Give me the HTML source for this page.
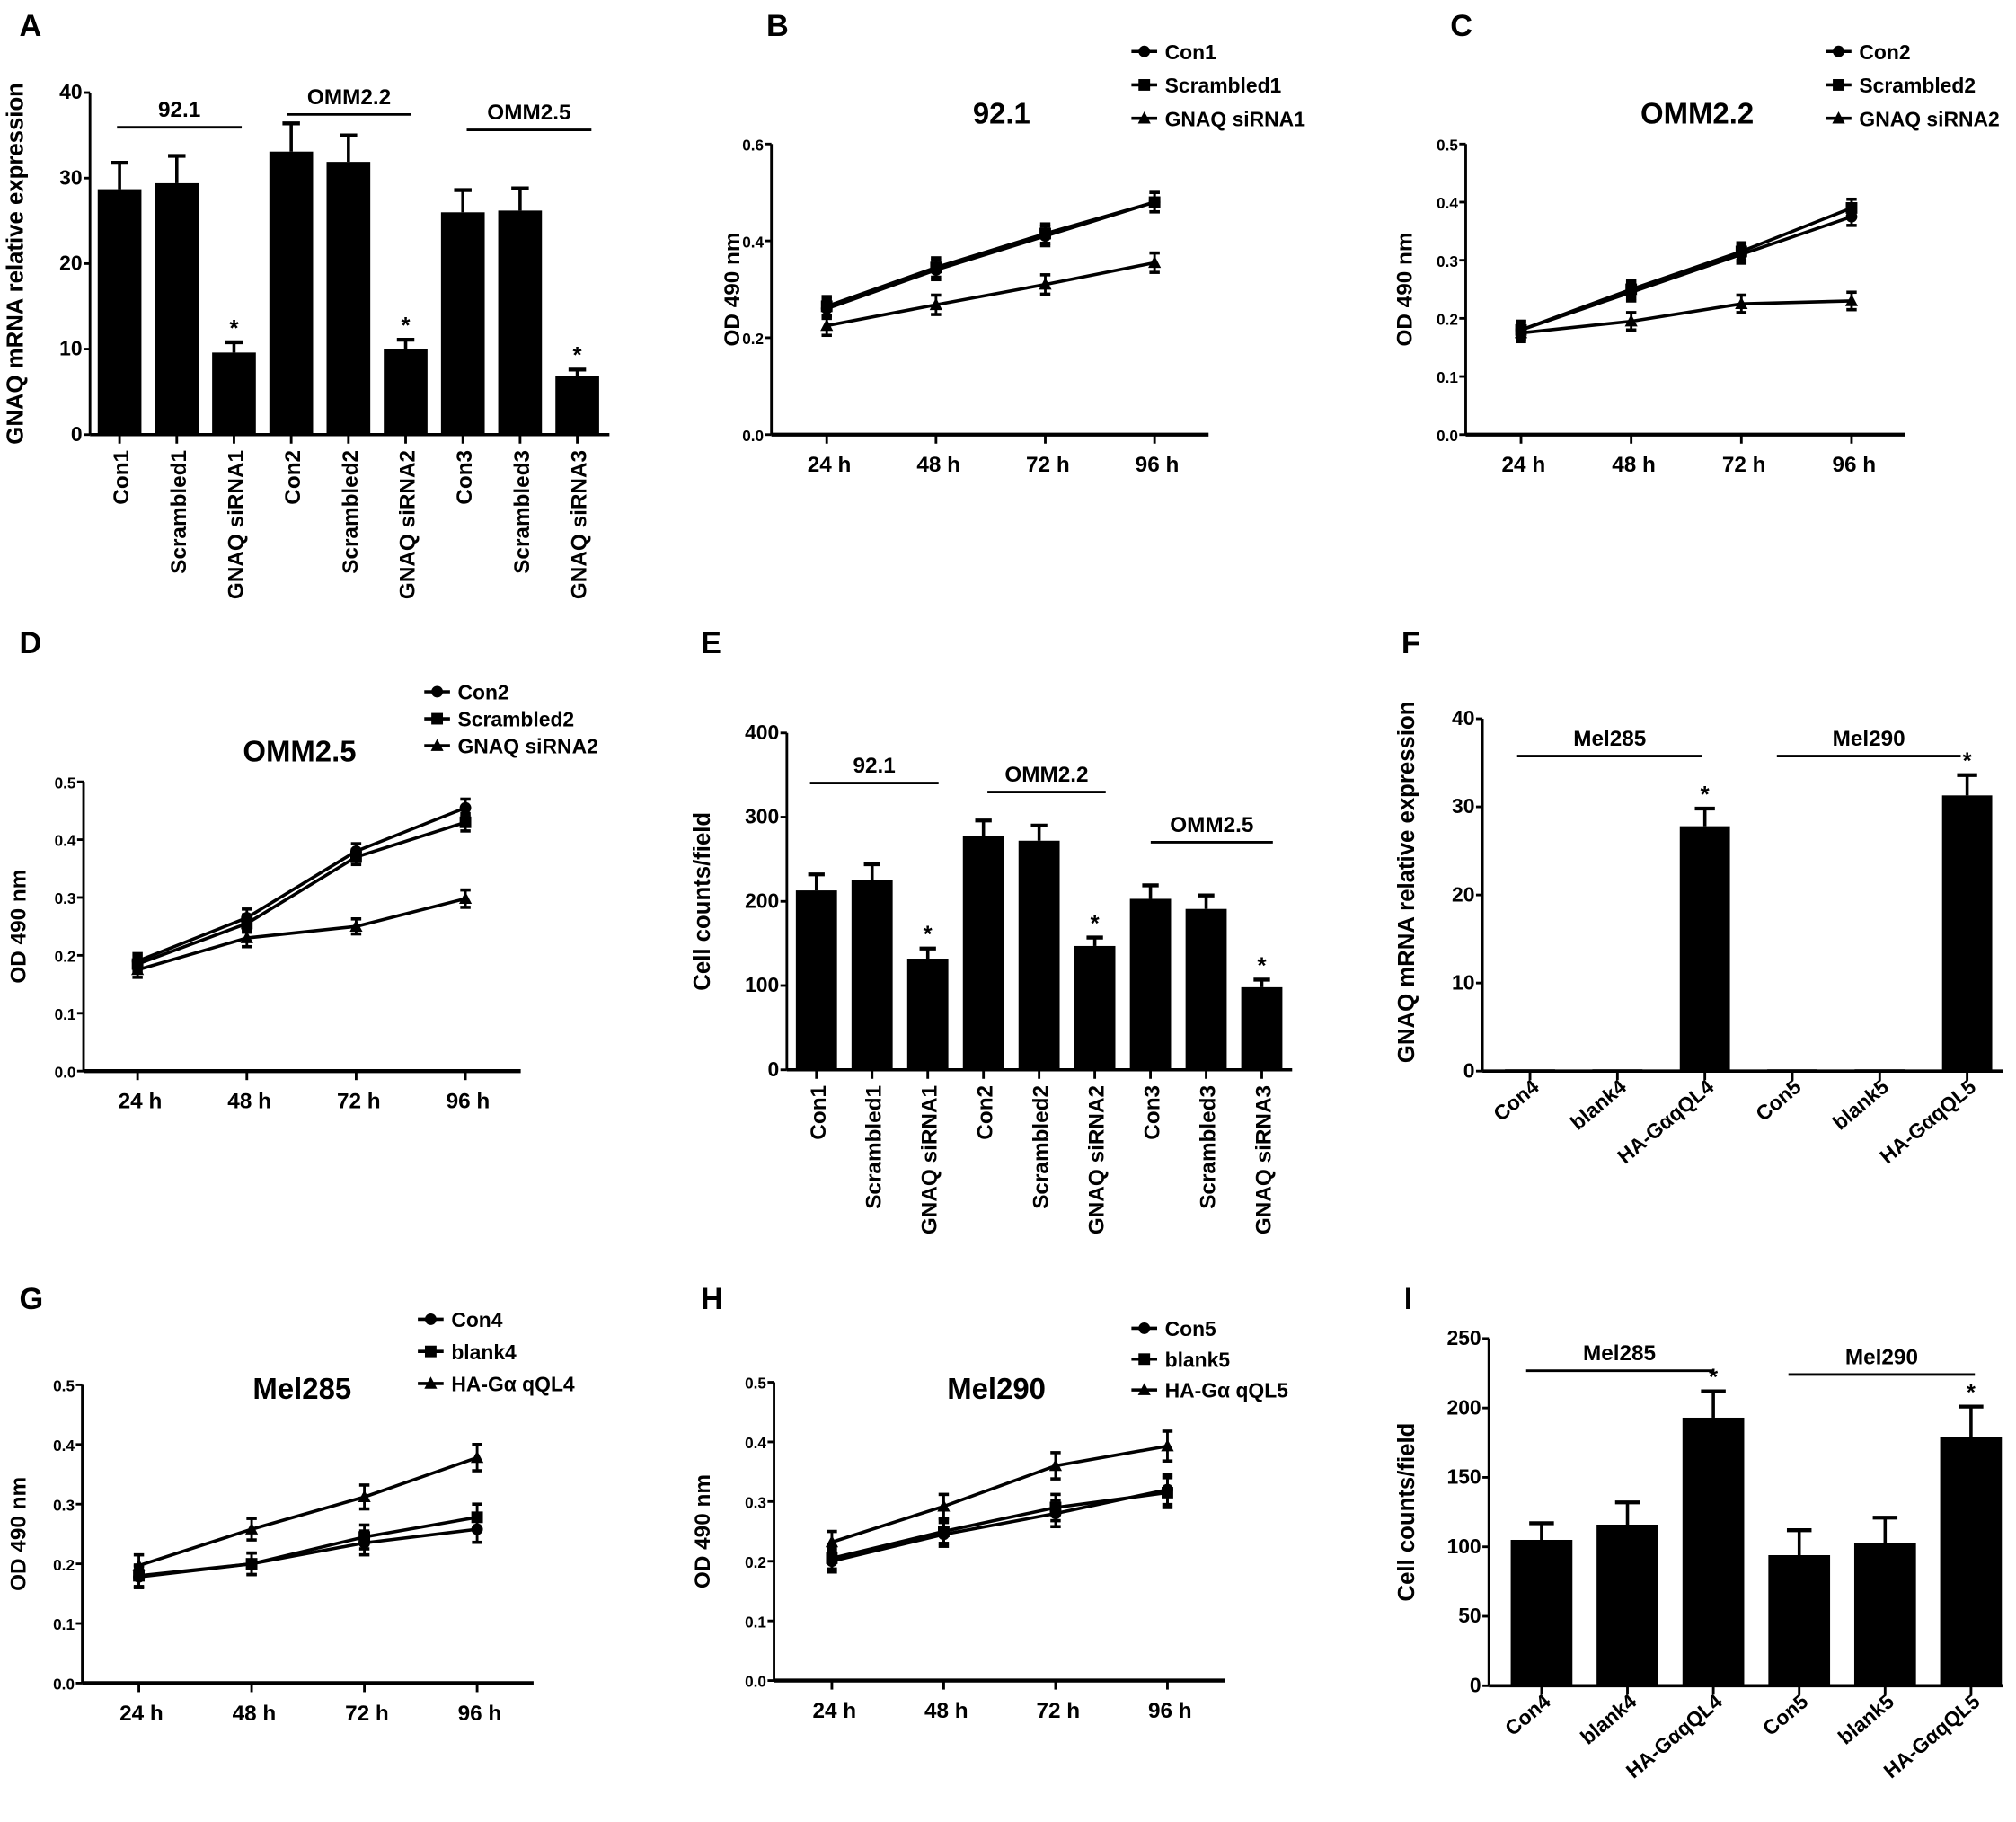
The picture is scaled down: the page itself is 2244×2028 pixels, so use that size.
<!DOCTYPE html>
<html><head><meta charset="utf-8"><style>
html,body{margin:0;padding:0;background:#fff;}
svg{display:block;}
text{font-family:"Liberation Sans",Arial,sans-serif;font-weight:bold;fill:#000;}
</style></head><body>
<svg id="fig" width="2244" height="2028" viewBox="0 0 1568 1417" preserveAspectRatio="none" xmlns="http://www.w3.org/2000/svg"></svg>
<script>
// ---- Data ----
const catsA = ["Con1","Scrambled1","GNAQ siRNA1","Con2","Scrambled2","GNAQ siRNA2","Con3","Scrambled3","GNAQ siRNA3"];
const valsA = [28.7,29.4,9.6,33.1,31.9,10.0,26.0,26.2,6.9];
const errsA = [3.1,3.2,1.2,3.3,3.1,1.1,2.6,2.6,0.7];
const sigA = [0,0,1,0,0,1,0,0,1];
const ticksA = [0,10,20,30,40];

const catsE = ["Con1","Scrambled1","GNAQ siRNA1","Con2","Scrambled2","GNAQ siRNA2","Con3","Scrambled3","GNAQ siRNA3"];
const valsE = [213,225,132,278,272,147,203,191,98];
const errsE = [19,19,12,18,18,10,16,16,9];
const sigE = [0,0,1,0,0,1,0,0,1];
const ticksE = [0,100,200,300,400];

const catsF = ["Con4","blank4","HA-GαqQL4","Con5","blank5","HA-GαqQL5"];
const valsF = [0.2,0.2,27.8,0.2,0.2,31.3];
const errsF = [0,0,2.0,0,0,2.3];
const sigF = [0,0,1,0,0,1];
const ticksF = [0,10,20,30,40];

const catsI = ["Con4","blank4","HA-GαqQL4","Con5","blank5","HA-GαqQL5"];
const valsI = [105,116,193,94,103,179];
const errsI = [12,16,19,18,18,22];
const sigI = [0,0,1,0,0,1];
const ticksI = [0,50,100,150,200,250];

const timeLabels = ["24 h","48 h","72 h","96 h"];

const namesB = ["Con1","Scrambled1","GNAQ siRNA1"];
const b1 = [0.26,0.34,0.41,0.48];
const b2 = [0.265,0.345,0.415,0.48];
const b3 = [0.225,0.268,0.31,0.355];
const errB = [0.02,0.02,0.02,0.02];
const ticksB = [0.0,0.2,0.4,0.6];

const namesC = ["Con2","Scrambled2","GNAQ siRNA2"];
const c1 = [0.18,0.245,0.31,0.375];
const c2 = [0.18,0.25,0.315,0.39];
const c3 = [0.175,0.195,0.225,0.23];
const errC = [0.015,0.015,0.015,0.015];
const ticksC = [0.0,0.1,0.2,0.3,0.4,0.5];

const namesD = ["Con2","Scrambled2","GNAQ siRNA2"];
const d1 = [0.19,0.265,0.38,0.455];
const d2 = [0.185,0.255,0.37,0.43];
const d3 = [0.175,0.23,0.25,0.298];
const errD = [0.013,0.015,0.013,0.015];
const ticksD = [0.0,0.1,0.2,0.3,0.4,0.5];

const namesG = ["Con4","blank4","HA-Gα qQL4"];
const g1 = [0.178,0.2,0.235,0.258];
const g2 = [0.18,0.2,0.245,0.278];
const g3 = [0.197,0.258,0.312,0.378];
const errG = [0.018,0.018,0.02,0.022];
const ticksG = [0.0,0.1,0.2,0.3,0.4,0.5];

const namesH = ["Con5","blank5","HA-Gα qQL5"];
const h1 = [0.2,0.245,0.28,0.32];
const h2 = [0.205,0.25,0.29,0.315];
const h3 = [0.232,0.292,0.36,0.393];
const errH = [0.018,0.02,0.022,0.025];
const ticksH = [0.0,0.1,0.2,0.3,0.4,0.5];

// ---- helpers ----
const NS="http://www.w3.org/2000/svg";
const fig=document.getElementById('fig');
function el(tag,attrs,parent,txt){const e=document.createElementNS(NS,tag);for(const k in attrs)e.setAttribute(k,attrs[k]);if(txt!==undefined)e.textContent=txt;(parent||fig).appendChild(e);return e;}
function group(name){const g=el('g',{},fig);


return g;}
function label(g,x,y,s,size,name,anchor,rot){const t=el('text',{x:x,y:y,'font-size':size,'text-anchor':anchor||'middle'},g,s);
if(rot!==undefined)t.setAttribute('transform','rotate('+rot+' '+x+' '+y+')');


return t;}

function yAxis(g,x,yTop,yBot,max,ticks,fmt,fs){
 const ys=v=>yBot-(v/max)*(yBot-yTop);
 const a=el('line',{x1:x,y1:yTop,x2:x,y2:yBot,stroke:'#000','stroke-width':2},g);
 
 
 ticks.forEach(t=>{const y=ys(t);
  el('line',{x1:x-5,y1:y,x2:x,y2:y,stroke:'#000','stroke-width':2},g);
  label(g,x-6,y+5,fmt(t),fs,'y-tick-label','end');});
 return ys;}

function barChart(p){
 const g=group(p.name);
 const ys=yAxis(g,p.x0,p.yTop,p.yBot,p.max,p.ticks,p.fmt,16);
 const ax=el('line',{x1:p.x0,y1:p.yBot,x2:p.xEnd,y2:p.yBot,stroke:'#000','stroke-width':2.5},g);
 
 
 const xc=i=>p.start+i*p.step;
 p.vals.forEach((v,i)=>{const cx=xc(i),y=ys(v);
  const r=el('rect',{x:cx-p.w/2,y:y,width:p.w,height:p.yBot-y,fill:'#000'},g);
  
  
  if(p.errs[i]>0){const ye=ys(v+p.errs[i]);
   el('line',{x1:cx,y1:y,x2:cx,y2:ye,stroke:'#000','stroke-width':2.5},g);
   el('line',{x1:cx-p.w*0.2,y1:ye,x2:cx+p.w*0.2,y2:ye,stroke:'#000','stroke-width':3},g);
   if(p.sig[i])label(g,cx,ye-5,'*',18,'significance-star');}
  el('line',{x1:cx,y1:p.yBot,x2:cx,y2:p.yBot+7,stroke:'#000','stroke-width':2},g);
  if(p.rot===-90)label(g,cx+7,p.yBot+12,p.cats[i],17,'x-tick-label','end',-90);
  else label(g,cx+8,p.yBot+14,p.cats[i],16,'x-tick-label','end',-40);
 });
 label(g,p.ylx,(p.yTop+p.yBot)/2+p.yloff,p.ylabel,18,'y-axis-title','middle',-90);
 p.groups.forEach(gr=>{
  const l=el('line',{x1:gr[0],y1:gr[2],x2:gr[1],y2:gr[2],stroke:'#000','stroke-width':2},g);
  
  
  label(g,(gr[0]+gr[1])/2,gr[2]-8,gr[3],17,'group-label');});
}

function marker(g,type,x,y,s){
 if(type===0)el('circle',{cx:x,cy:y,r:s,fill:'#000'},g);
 else if(type===1)el('rect',{x:x-s,y:y-s,width:2*s,height:2*s,fill:'#000'},g);
 else el('polygon',{points:(x)+','+(y-s*1.2)+' '+(x-s*1.1)+','+(y+s*0.9)+' '+(x+s*1.1)+','+(y+s*0.9),fill:'#000'},g);}

function lineChart(p){
 const g=group(p.name);
 const ys=yAxis(g,p.x0,p.yTop,p.yBot,p.max,p.ticks,t=>t.toFixed(1),12);
 const ax=el('line',{x1:p.x0,y1:p.yBot,x2:p.xEnd,y2:p.yBot,stroke:'#000','stroke-width':3},g);
 
 
 const xs=i=>p.start+i*p.step;
 timeLabels.forEach((t,i)=>{el('line',{x1:xs(i),y1:p.yBot,x2:xs(i),y2:p.yBot+7,stroke:'#000','stroke-width':2},g);
  label(g,xs(i)+2,p.yBot+29,t,17,'x-tick-label');});
 p.series.forEach((s,si)=>{
  const pts=s.map((v,i)=>xs(i)+','+ys(v)).join(' ');
  const pl=el('polyline',{points:pts,fill:'none',stroke:'#000','stroke-width':2.5},g);
  
  
  s.forEach((v,i)=>{const x=xs(i),y=ys(v),e=p.err[i];
   el('line',{x1:x,y1:ys(v-e),x2:x,y2:ys(v+e),stroke:'#000','stroke-width':2},g);
   el('line',{x1:x-4,y1:ys(v+e),x2:x+4,y2:ys(v+e),stroke:'#000','stroke-width':2.5},g);
   el('line',{x1:x-4,y1:ys(v-e),x2:x+4,y2:ys(v-e),stroke:'#000','stroke-width':2.5},g);
   marker(g,si,x,y,4.5);});
 });
 label(g,p.ylx,(p.yTop+p.yBot)/2,'OD 490 nm',17,'y-axis-title','middle',-90);
 label(g,p.tx,p.ty,p.title,23,'chart-title');
 p.names.forEach((n,i)=>{const y=p.ly+i*p.lstep;
  const lg=el('g',{},g);
  
  
  el('line',{x1:p.lx,y1:y,x2:p.lx+20,y2:y,stroke:'#000','stroke-width':2.5},lg);
  marker(lg,i,p.lx+10,y,4.5);
  label(lg,p.lx+26,y+6,n,16,'legend-label','start');});
}

// ---- panels ----
barChart({name:'panel-a-chart',x0:70,xEnd:474,yTop:72,yBot:338,max:40,ticks:ticksA,fmt:t=>t,start:93,step:44.5,w:34,
 cats:catsA,vals:valsA,errs:errsA,sig:sigA,rot:-90,ylabel:'GNAQ mRNA relative expression',ylx:18,yloff:0,
 groups:[[91,188,99,'92.1'],[223,320,89,'OMM2.2'],[363,460,101,'OMM2.5']]});
barChart({name:'panel-e-chart',x0:612,xEnd:1005,yTop:570,yBot:832,max:400,ticks:ticksE,fmt:t=>t,start:635,step:43.3,w:32,
 cats:catsE,vals:valsE,errs:errsE,sig:sigE,rot:-90,ylabel:'Cell counts/field',ylx:552,yloff:0,
 groups:[[630,730,609,'92.1'],[768,860,616,'OMM2.2'],[895,990,655,'OMM2.5']]});
barChart({name:'panel-f-chart',x0:1153,xEnd:1558,yTop:559,yBot:833,max:40,ticks:ticksF,fmt:t=>t,start:1190,step:68,w:39,
 cats:catsF,vals:valsF,errs:errsF,sig:sigF,rot:-40,ylabel:'GNAQ mRNA relative expression',ylx:1100,yloff:-10,
 groups:[[1180,1324,588,'Mel285'],[1382,1525,588,'Mel290']]});
barChart({name:'panel-i-chart',x0:1158,xEnd:1558,yTop:1041,yBot:1311,max:250,ticks:ticksI,fmt:t=>t,start:1199,step:66.8,w:48,
 cats:catsI,vals:valsI,errs:errsI,sig:sigI,rot:-40,ylabel:'Cell counts/field',ylx:1100,yloff:0,
 groups:[[1187,1332,1066,'Mel285'],[1391,1536,1069,'Mel290']]});

lineChart({name:'panel-b-chart',x0:600,xEnd:940,yTop:112,yBot:338,max:0.6,ticks:ticksB,start:643,step:85,
 series:[b1,b2,b3],err:errB,names:namesB,title:'92.1',tx:779,ty:96,lx:880,ly:40,lstep:26,ylx:575});
lineChart({name:'panel-c-chart',x0:1140,xEnd:1482,yTop:112,yBot:338,max:0.5,ticks:ticksC,start:1183,step:85.7,
 series:[c1,c2,c3],err:errC,names:namesC,title:'OMM2.2',tx:1320,ty:96,lx:1420,ly:40,lstep:26,ylx:1098});
lineChart({name:'panel-d-chart',x0:65,xEnd:405,yTop:608,yBot:833,max:0.5,ticks:ticksD,start:107,step:85,
 series:[d1,d2,d3],err:errD,names:namesD,title:'OMM2.5',tx:233,ty:592,lx:330,ly:538,lstep:21,ylx:20});
lineChart({name:'panel-g-chart',x0:64,xEnd:415,yTop:1077,yBot:1309,max:0.5,ticks:ticksG,start:108,step:87.7,
 series:[g1,g2,g3],err:errG,names:namesG,title:'Mel285',tx:235,ty:1088,lx:325,ly:1026,lstep:25,ylx:20});
lineChart({name:'panel-h-chart',x0:602,xEnd:953,yTop:1075,yBot:1307,max:0.5,ticks:ticksH,start:647,step:87,
 series:[h1,h2,h3],err:errH,names:namesH,title:'Mel290',tx:775,ty:1088,lx:880,ly:1033,lstep:24,ylx:552});

// panel letters
const letters=[['A',15,28],['B',596,28],['C',1128,28],['D',15,508],['E',545,508],['F',1090,508],['G',15,1018],['H',545,1018],['I',1092,1018]];
letters.forEach(l=>{const t=label(fig,l[1],l[2],l[0],24,'panel-letter-'+l[0].toLowerCase(),'start');});
</script>
</body></html>
